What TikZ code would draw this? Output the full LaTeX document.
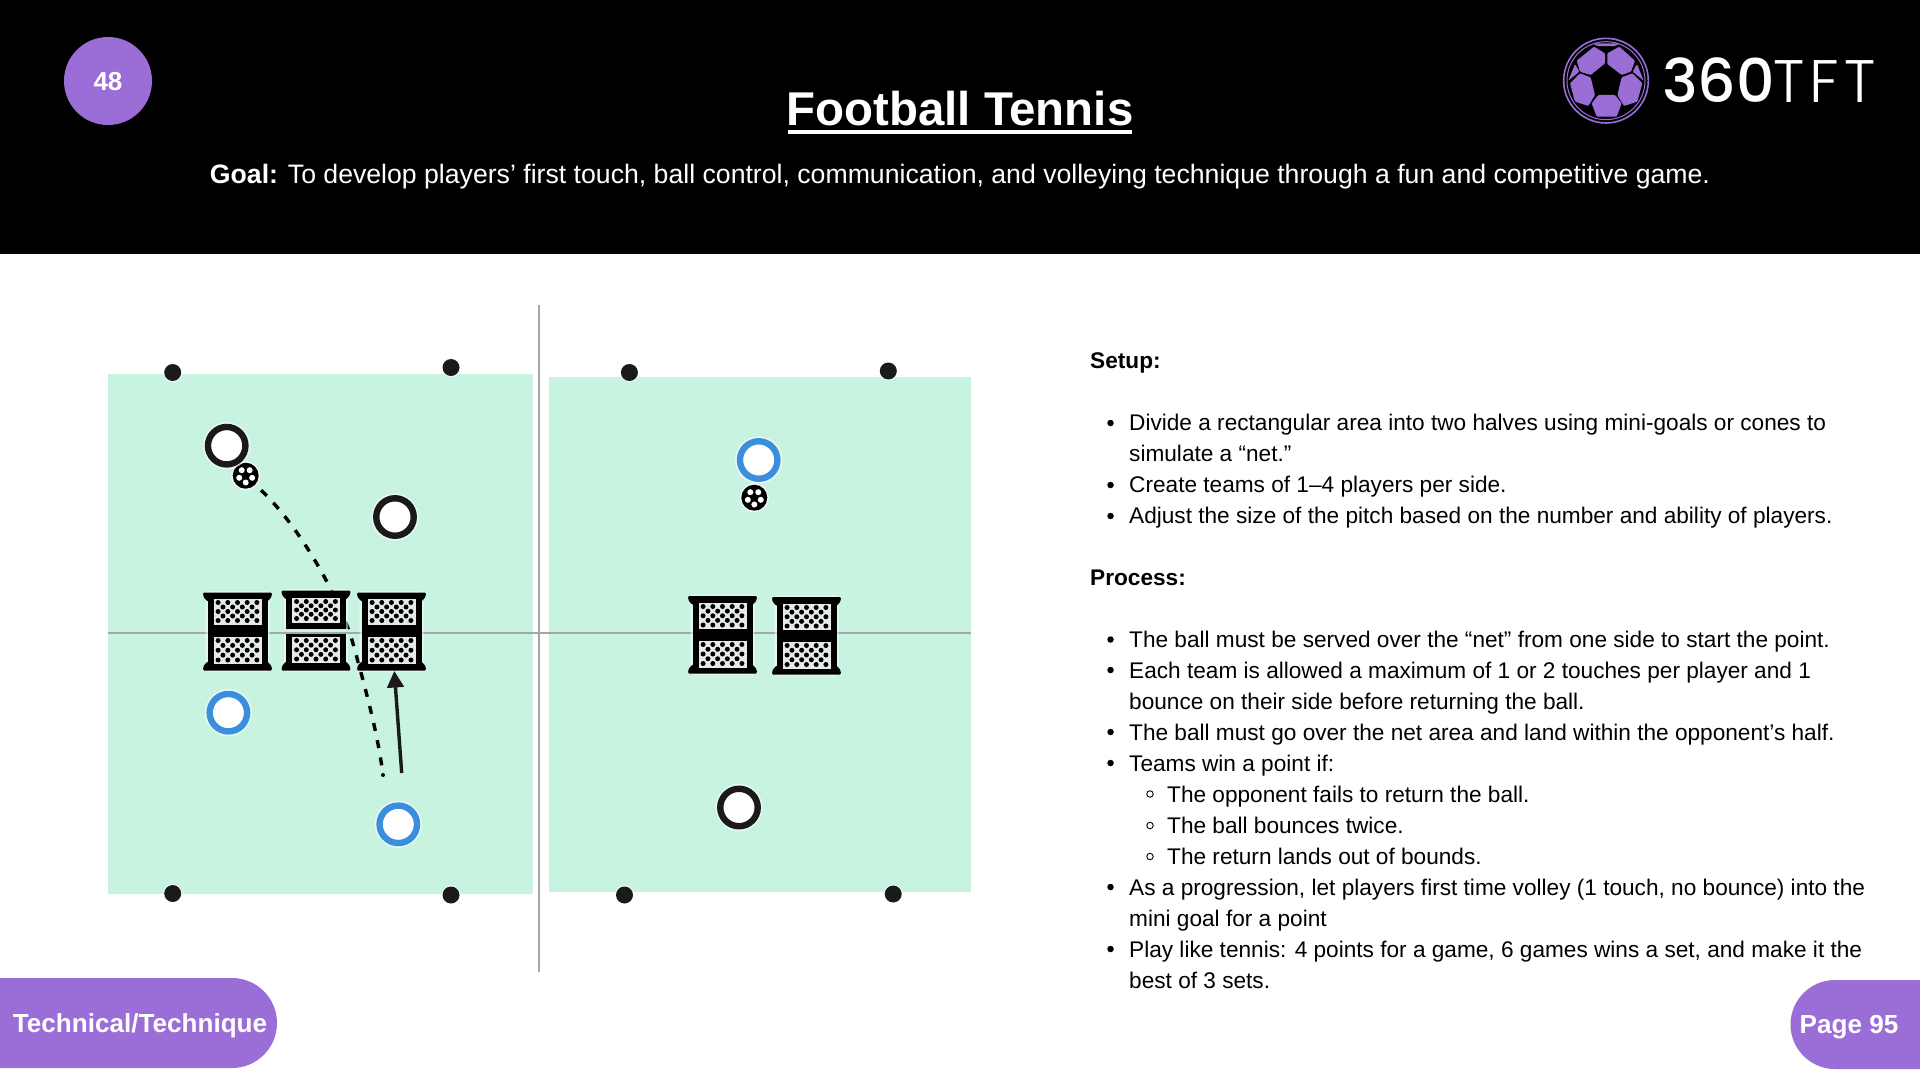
\documentclass[tikz,border=0pt]{standalone}
\usepackage{fontspec}
\setmainfont{Liberation Sans}
\newfontfamily\logofont[UprightFont=* Medium]{Poppins}
\newfontfamily\logolight[UprightFont=* Light,LetterSpace=9]{Poppins}
\usetikzlibrary{arrows.meta}
\definecolor{purp}{HTML}{9B6DD7}
\definecolor{fieldc}{HTML}{C8F3E1}
\definecolor{lineg}{HTML}{A3A8A5}
\definecolor{ringb}{HTML}{3A8EDB}
\definecolor{ringk}{HTML}{1A1A1A}
\definecolor{meshc}{HTML}{E6EAE7}
\tikzset{
  x=1pt,y=-1pt,
  ringnode/.style={circle,draw=#1,line width=6.4pt,fill=white,minimum size=37.5pt,inner sep=0pt,
    preaction={draw=white,line width=9.5pt,opacity=.6}},
  conenode/.style={circle,fill=ringk,minimum size=17pt,inner sep=0pt,
    preaction={draw=white,line width=2pt,opacity=.8}},
  ballnode/.style={circle,fill=black,minimum size=26pt,inner sep=0pt,
    preaction={draw=white,line width=3pt,opacity=.7}},
  bodytext/.style={anchor=base west,inner sep=0pt,font=\fontsize{22.63}{27}\selectfont,text=black},
  bulletdot/.style={circle,fill=black,minimum size=6.5pt,inner sep=0pt},
  subdot/.style={circle,draw=black,line width=.9pt,minimum size=6.5pt,inner sep=0pt},
  gridline/.style={draw=lineg,line width=2pt},
  pill/.style={fill=purp},
  pilltext/.style={text=white,font=\fontsize{26.1}{30}\selectfont\bfseries,inner sep=0pt},
  logoshape/.style={fill=purp,draw=none,rounded corners=1pt},
}
% mesh panel: #1 x centre, #2 top y, #3 bottom y
\newcommand{\meshpanel}[3]{%
  \fill[meshc] (#1-24,#2) rectangle (#1+24,#3);
  \pgfmathsetmacro{\rowstep}{(#3-#2-8)/4}
  \foreach \r in {0,...,4}{
    \pgfmathsetmacro{\rowy}{#2+4+\r*\rowstep}
    \ifodd\r
      \foreach \c in {-1.5,-0.5,0.5,1.5}{\fill[black] (#1+\c*9.7,\rowy) circle (2.5);}
    \else
      \foreach \c in {-2,-1,0,1,2}{\fill[black] (#1+\c*9.7,\rowy) circle (2.5);}
    \fi
  }%
}
% goal: #1 x centre, #2 top y, #3 mesh1 top, #4 mesh1 bottom, #5 mesh2 top, #6 mesh2 bottom, #7 bottom y
\newcommand{\goalpic}[7]{%
  \fill[white,opacity=.5,rounded corners=3pt] (#1-32,#2-1.5) rectangle (#1+32,#7+1.5);
  \fill[black,rounded corners=1.2pt] (#1-34.5,#2) -- (#1+34.5,#2) -- (#1+34,#2+4.5) -- (#1+30,#2+9) -- (#1-30,#2+9) -- (#1-34,#2+4.5) -- cycle;
  \fill[black,rounded corners=1.2pt] (#1-34.5,#7) -- (#1+34.5,#7) -- (#1+34,#7-4.5) -- (#1+30,#7-9) -- (#1-30,#7-9) -- (#1-34,#7-4.5) -- cycle;
  \fill[black] (#1-30,#2+2) rectangle (#1+30,#7-2);
  \meshpanel{#1}{#3}{#4}
  \meshpanel{#1}{#5}{#6}
}
\begin{document}
\begin{tikzpicture}
\useasboundingbox (0,0) rectangle (1920,1080);
\fill[white] (0,0) rectangle (1920,1080);
% header
\fill[black] (0,0) rectangle (1920,254);
\node[circle,fill=purp,minimum size=88pt,inner sep=0pt] (badge) at (108,81) {};
\node[text=white,font=\fontsize{26}{30}\selectfont\bfseries,inner sep=0pt] (badgelabel) at (108,82) {48};
\node[text=white,font=\fontsize{47.4}{54}\selectfont\bfseries,inner sep=0pt,anchor=base] (title) at (960,125.5) {Football Tennis};
\fill[white] (788,130) rectangle (1132,133.5);
\node[text=white,font=\fontsize{26.65}{32}\selectfont,inner sep=0pt,anchor=base] (goaltext) at (960,183) {\textbf{Goal:} To develop players’ first touch, ball control, communication, and volleying technique through a fun and competitive game.};
% logo
\begin{scope}[shift={(1520,20)},x=0.3333pt,y=-0.3333pt]
  \draw[purp,line width=1.6pt] (258,182) circle (127);
  \draw[purp,line width=1pt] (258,182) circle (117);
  \fill[logoshape] (218,70) -- (300,70) -- (285,78) -- (232,78) -- cycle;
  \fill[logoshape] (170,122) -- (222,80) -- (255,100) -- (255,130) -- (212,165) -- (180,155) -- cycle;
  \fill[logoshape] (262,100) -- (298,80) -- (345,122) -- (333,155) -- (305,165) -- (262,132) -- cycle;
  \fill[logoshape] (180,160) -- (212,172) -- (225,225) -- (205,258) -- (165,245) -- (150,190) -- cycle;
  \fill[logoshape] (305,172) -- (337,160) -- (367,190) -- (352,245) -- (312,258) -- (292,225) -- cycle;
  \fill[logoshape] (235,225) -- (285,225) -- (305,250) -- (290,290) -- (230,290) -- (215,250) -- cycle;
  \fill[logoshape] (145,182) -- (165,132) -- (178,155) -- cycle;
  \fill[logoshape] (371,182) -- (351,132) -- (338,155) -- cycle;
\end{scope}
\node[text=white,inner sep=0pt,anchor=base west,font=\logofont\fontsize{60}{60}\selectfont] (logo360) at (1662,102) {360};
\node[text=white,inner sep=0pt,anchor=base west,font=\logolight\fontsize{60}{60}\selectfont] (logotft) at (1773,102) {TFT};
% fields
\fill[fieldc] (108,374) rectangle (533,894);
\fill[fieldc] (549,377) rectangle (971,892);
\draw[gridline] (108,632.5) -- (971,632.5);
\draw[gridline] (539,305) -- (539,972);
% dashed flight
\node[ballnode] (ballA) at (245.7,475.7) {};
\node[ballnode] (ballB) at (754.3,497.7) {};
\foreach \b in {ballA,ballB}{
  \foreach \a in {90,162,234,306,18}{\fill[white] (\b)+(\a:6.8) circle (3);}
}
\coordinate (dashEnd) at (383,775);
\draw[black,line width=3.4pt,dash pattern=on 8pt off 9.5pt,shorten <=8pt]
  (ballA) .. controls (300,527) and (338,595) .. (352,640) .. controls (366,690) and (378,735) .. (dashEnd);
\fill[black] (dashEnd) circle (2);
% goals
\goalpic{237.5}{592.5}{598.5}{624.5}{636.5}{664}{670.5}
\goalpic{316}{590.5}{597.5}{622.5}{636.5}{663}{670.5}
\fill[fieldc] (284,628.5) rectangle (348,632);
\draw[gridline] (284,632.5) -- (348,632.5);
\goalpic{391.5}{592.5}{598.5}{624.5}{636.5}{664}{670.5}
\goalpic{722.5}{596}{602.5}{629}{640.5}{667.5}{673.5}
\goalpic{806.5}{597}{603.5}{630}{641.5}{668.5}{674.5}
% arrow
\coordinate (arrowStart) at (401.7,773);
\coordinate (arrowTip) at (394.3,671);
\draw[ringk,line width=3.4pt,-{Triangle[width=16.5pt,length=16.5pt]}] (arrowStart) -- (arrowTip);
% cones
\node[conenode] (c1) at (172.7,372.5) {};
\node[conenode] (c2) at (451,367.5) {};
\node[conenode] (c3) at (172.7,893.5) {};
\node[conenode] (c4) at (451,895) {};
\node[conenode] (c5) at (629.4,372.5) {};
\node[conenode] (c6) at (888.3,371) {};
\node[conenode] (c7) at (624.5,895) {};
\node[conenode] (c8) at (893.2,894) {};
% players
\node[ringnode=ringk] (p1) at (226.7,445.7) {};
\node[ringnode=ringk] (p2) at (395,517) {};
\node[ringnode=ringb] (p3) at (228.4,712.7) {};
\node[ringnode=ringb] (p4) at (398.3,824.3) {};
\node[ringnode=ringb] (p5) at (758.7,460) {};
\node[ringnode=ringk] (p6) at (739,807.5) {};
% text
\node[bodytext] (t1) at (1090,368) {\textbf{Setup:}};
\node[bodytext] (t2) at (1129,430) {Divide a rectangular area into two halves using mini-goals or cones to};
\node[bodytext] (t3) at (1129,461) {simulate a “net.”};
\node[bodytext] (t4) at (1129,492) {Create teams of 1–4 players per side.};
\node[bodytext] (t5) at (1129,523.5) {Adjust the size of the pitch based on the number and ability of players.};
\node[bodytext] (t6) at (1090,585) {\textbf{Process:}};
\node[bodytext] (t7) at (1129,647.5) {The ball must be served over the “net” from one side to start the point.};
\node[bodytext] (t8) at (1129,678) {Each team is allowed a maximum of 1 or 2 touches per player and 1};
\node[bodytext] (t9) at (1129,709) {bounce on their side before returning the ball.};
\node[bodytext] (t10) at (1129,740) {The ball must go over the net area and land within the opponent’s half.};
\node[bodytext] (t11) at (1129,771) {Teams win a point if:};
\node[bodytext] (t12) at (1167,802) {The opponent fails to return the ball.};
\node[bodytext] (t13) at (1167,833.5) {The ball bounces twice.};
\node[bodytext] (t14) at (1167,864.5) {The return lands out of bounds.};
\node[bodytext] (t15) at (1129,895) {As a progression, let players first time volley (1 touch, no bounce) into the};
\node[bodytext] (t16) at (1129,926) {mini goal for a point};
\node[bodytext] (t17) at (1129,957) {Play like tennis: 4 points for a game, 6 games wins a set, and make it the};
\node[bodytext] (t18) at (1129,988) {best of 3 sets.};
\foreach \n/\y in {b1/423,b2/485,b3/516,b4/639.5,b5/670,b6/732,b7/763,b8/887,b9/949}{
  \node[bulletdot] (\n) at (1110.5,\y) {};
}
\foreach \n/\y in {s1/794,s2/825.5,s3/856.5}{
  \node[subdot] (\n) at (1150,\y) {};
}
% pills
\fill[pill] (0,978) -- (232,978) arc[start angle=-90,end angle=90,radius=45] -- (0,1068) -- cycle;
\node[pilltext] (techlabel) at (140,1025.5) {Technical/Technique};
\fill[pill] (1920,980) -- (1835,980) arc[start angle=-90,end angle=-270,radius=44.5] -- (1920,1069) -- cycle;
\node[pilltext] (pagelabel) at (1849,1027.5) {Page 95};
\end{tikzpicture}
\end{document}
